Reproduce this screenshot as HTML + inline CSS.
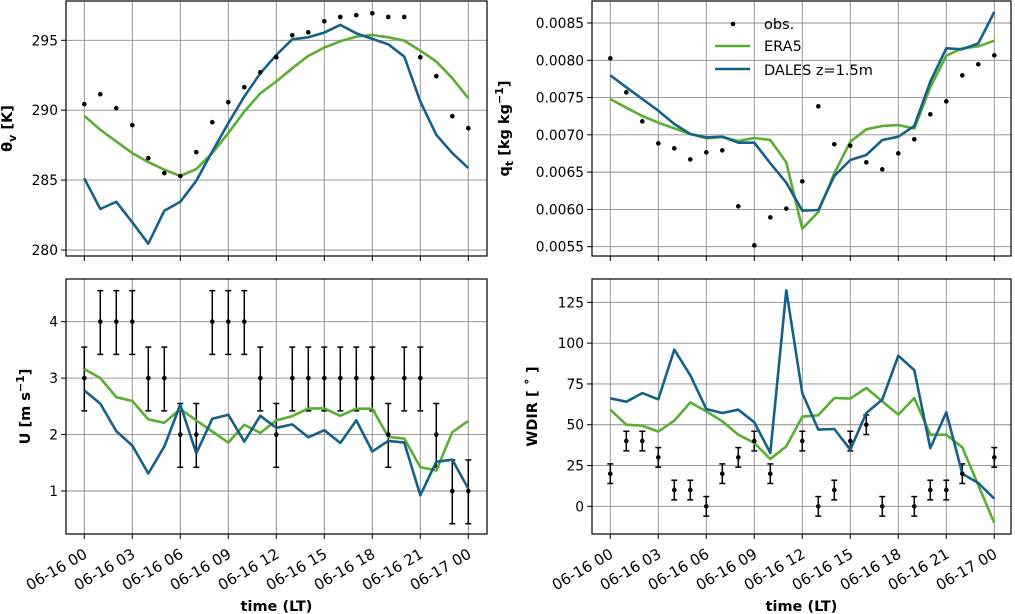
<!DOCTYPE html>
<html><head><meta charset="utf-8"><style>
html,body{margin:0;padding:0;background:#fff;}
svg{display:block;font-family:"DejaVu Sans","Liberation Sans",sans-serif;}
</style></head><body>
<svg id="chart" width="1015" height="614" viewBox="0 0 1015 614" xmlns="http://www.w3.org/2000/svg"></svg>
<script>
const hours = [0,1,2,3,4,5,6,7,8,9,10,11,12,13,14,15,16,17,18,19,20,21,22,23,24];
const xTickLabels = ["06-16 00","06-16 03","06-16 06","06-16 09","06-16 12","06-16 15","06-16 18","06-16 21","06-17 00"];
const xTickHours = [0,3,6,9,12,15,18,21,24];

const thetaObs = [290.43,291.14,290.14,288.93,286.57,285.5,285.29,287.0,289.14,290.57,291.64,292.71,293.79,295.36,295.57,296.36,296.67,296.79,296.93,296.67,296.67,293.79,292.43,289.57,288.71];
const thetaEra = [289.6,288.6,287.76,286.93,286.29,285.74,285.29,285.79,286.93,288.36,289.9,291.21,292.05,293.0,293.88,294.48,294.93,295.26,295.38,295.21,294.98,294.26,293.48,292.29,290.86];
const thetaDales = [285.12,282.93,283.45,281.98,280.45,282.81,283.45,284.95,287.05,289.07,290.98,292.64,293.95,295.07,295.21,295.55,296.1,295.5,295.1,294.71,293.83,290.62,288.24,286.93,285.86];
const thetaTicks = [280,285,290,295];

const qObs = [0.008026,0.00757,0.007181,0.006886,0.006819,0.006671,0.006765,0.006792,0.006041,0.005518,0.005893,0.00601,0.006376,0.007382,0.006873,0.006855,0.006631,0.006537,0.006752,0.00694,0.007275,0.007449,0.007798,0.007946,0.008066];
const qEra = [0.007481,0.007364,0.007253,0.007163,0.007087,0.007011,0.006953,0.006971,0.006917,0.006958,0.006931,0.006631,0.005741,0.005965,0.006484,0.006908,0.007074,0.007119,0.007132,0.007083,0.007637,0.008062,0.00816,0.008187,0.008263];
const qDales = [0.007798,0.007637,0.007481,0.007324,0.007145,0.007011,0.006966,0.006975,0.006895,0.006895,0.006618,0.006358,0.005983,0.005992,0.006448,0.006662,0.006729,0.006931,0.006975,0.007119,0.007713,0.00816,0.008147,0.008227,0.008648];
const qTicks = [0.0055,0.006,0.0065,0.007,0.0075,0.008,0.0085];

const uObs = [3,4,4,4,3,3,2,2,4,4,4,3,2,3,3,3,3,3,3,2,3,3,2,1,1];
const uErrUp = 0.55;
const uErrDown = 0.58;
const uEra = [3.161,3.0,2.661,2.595,2.268,2.208,2.452,2.25,2.054,1.857,2.173,2.03,2.25,2.327,2.464,2.464,2.333,2.458,2.458,1.958,1.929,1.423,1.363,2.042,2.244];
const uDales = [2.78,2.548,2.06,1.804,1.31,1.786,2.53,1.667,2.28,2.351,1.875,2.333,2.119,2.179,1.952,2.077,1.851,2.25,1.702,1.887,1.857,0.923,1.518,1.554,1.042];
const uTicks = [1,2,3,4];

const wObs = [20,40,40,30,10,10,0,20,30,40,20,null,40,0,10,40,50,0,null,0,10,10,20,null,30];
const wErr = 6;
const wEra = [59.2,50.0,49.4,45.8,52.5,63.7,58.2,52.1,43.9,38.8,29.0,36.8,54.9,55.8,66.4,66.0,72.5,64.3,56.2,66.4,43.9,43.9,36.2,12.9,-10.2];
const wDales = [66.2,64.1,69.4,65.6,96.0,80.3,59.6,57.2,59.2,51.5,32.7,132.4,69.4,47.0,47.4,34.7,57.2,65.4,92.3,83.5,35.7,57.6,20.0,14.3,4.7];
const wTicks = [0,25,50,75,100,125];

const GREEN = "#5aae32", BLUE = "#17608a";
const NS = "http://www.w3.org/2000/svg";
const svg = document.getElementById('chart');
function mk(tag, attrs, parent){ const e=document.createElementNS(NS,tag); for(const k in attrs) e.setAttribute(k,attrs[k]); (parent||svg).appendChild(e); return e; }

function panel(cfg){
  const g = mk('g',{});
  
  
  const L=cfg.x0, R=cfg.x1, T=cfg.y0, B=cfg.y1;
  const xs = h => cfg.px0 + (h/24)*(cfg.px24-cfg.px0);
  const ys = v => T + (cfg.ymax - v)/(cfg.ymax-cfg.ymin)*(B-T);
  xTickHours.forEach(h=>{
    const l=mk('line',{x1:xs(h),x2:xs(h),y1:T,y2:B,stroke:'#8c8c8c','stroke-width':0.9},g);
    
    
    mk('line',{x1:xs(h),x2:xs(h),y1:B,y2:B+5,stroke:'#000','stroke-width':1},g);
  });
  cfg.ticks.forEach(v=>{
    const l=mk('line',{x1:L,x2:R,y1:ys(v),y2:ys(v),stroke:'#8c8c8c','stroke-width':0.9},g);
    
    
    mk('line',{x1:L-5,x2:L,y1:ys(v),y2:ys(v),stroke:'#000','stroke-width':1},g);
    const t=mk('text',{x:L-8,y:ys(v)+5,'text-anchor':'end','font-size':13.8,fill:'#000'},g);
    t.textContent=cfg.fmt(v);
    
    
  });
  if(cfg.errUp!==undefined){
    cfg.obs.forEach((v,i)=>{
      if(v===null) return;
      const x=xs(hours[i]), yt=ys(v+cfg.errUp), yb=ys(v-cfg.errDown);
      const eb=mk('g',{stroke:'#000','stroke-width':1.5},g);
      
      
      mk('line',{x1:x,x2:x,y1:yt,y2:yb},eb);
      mk('line',{x1:x-3,x2:x+3,y1:yt,y2:yt},eb);
      mk('line',{x1:x-3,x2:x+3,y1:yb,y2:yb},eb);
    });
  }
  const mkLine=(arr,col,nm)=>{
    const pts=arr.map((v,i)=>xs(hours[i]).toFixed(1)+','+ys(v).toFixed(1)).join(' ');
    const p=mk('polyline',{points:pts,fill:'none',stroke:col,'stroke-width':2.6,'stroke-linejoin':'round'},g);
    
    
  };
  mkLine(cfg.era,GREEN,'era5-line');
  mkLine(cfg.dales,BLUE,'dales-line');
  cfg.obs.forEach((v,i)=>{
    if(v===null) return;
    const c=mk('circle',{cx:xs(hours[i]),cy:ys(v),r:2.3,fill:'#000'},g);
    
    
  });
  const fr=mk('rect',{x:L,y:T,width:R-L,height:B-T,fill:'none',stroke:'#000','stroke-width':1.2},g);
  
  
  const yl=mk('text',{transform:`translate(${cfg.ylx},${(T+B)/2}) rotate(-90)`,'text-anchor':'middle','font-size':14.5,'font-weight':'bold'},g);
  yl.innerHTML=cfg.ylabel;
  
  
  if(cfg.xlabels){
    xTickHours.forEach((h,k)=>{
      const t=mk('text',{transform:`translate(${xs(h)+4},${B+23}) rotate(-30)`,'text-anchor':'end','font-size':15},g);
      t.textContent=xTickLabels[k];
      
      
    });
    const xl=mk('text',{x:(L+R)/2,y:611,'text-anchor':'middle','font-size':14.5,'font-weight':'bold'},g);
    xl.textContent='time (LT)';
    
    
  }
  return g;
}

panel({name:'theta-panel',x0:66,x1:487,y0:1,y1:256,px0:84.3,px24:468.3,ymin:279.57,ymax:297.81,ticks:thetaTicks,fmt:v=>String(v),obs:thetaObs,era:thetaEra,dales:thetaDales,ylx:12,ylabel:'θ<tspan font-size="11" dy="4">v</tspan><tspan dy="-4"> [K]</tspan>'});
panel({name:'q-panel',x0:592,x1:1011,y0:1,y1:256,px0:610.3,px24:994.3,ymin:0.005375,ymax:0.008795,ticks:qTicks,fmt:v=>v.toFixed(4),obs:qObs,era:qEra,dales:qDales,ylx:509,ylabel:'q<tspan font-size="11" dy="4">t</tspan><tspan dy="-4"> [kg kg</tspan><tspan font-size="11" dy="-6">−1</tspan><tspan dy="6">]</tspan>'});
panel({name:'u-panel',x0:66,x1:487,y0:279,y1:534,px0:84.3,px24:468.3,ymin:0.238,ymax:4.756,ticks:uTicks,fmt:v=>String(v),obs:uObs,errUp:uErrUp,errDown:uErrDown,era:uEra,dales:uDales,ylx:30,xlabels:true,ylabel:'U [m s<tspan font-size="11" dy="-6">−1</tspan><tspan dy="6">]</tspan>'});
panel({name:'wdir-panel',x0:592,x1:1011,y0:279,y1:534,px0:610.3,px24:994.3,ymin:-16.95,ymax:139.3,ticks:wTicks,fmt:v=>String(v),obs:wObs,errUp:wErr,errDown:wErr,era:wEra,dales:wDales,ylx:537,xlabels:true,ylabel:'WDIR [ ˚ ]'});

const lg=mk('g',{});


mk('circle',{cx:733,cy:24,r:2.3,fill:'#000'},lg);
const t1=mk('text',{x:764,y:29,'font-size':14.5},lg); t1.textContent='obs.';


mk('line',{x1:715,x2:750,y1:46,y2:46,stroke:GREEN,'stroke-width':2.6},lg);
const t2=mk('text',{x:764,y:51,'font-size':14.5},lg); t2.textContent='ERA5';


mk('line',{x1:715,x2:750,y1:69,y2:69,stroke:BLUE,'stroke-width':2.6},lg);
const t3=mk('text',{x:764,y:75,'font-size':14.5},lg); t3.textContent='DALES z=1.5m';


</script>
</body></html>
